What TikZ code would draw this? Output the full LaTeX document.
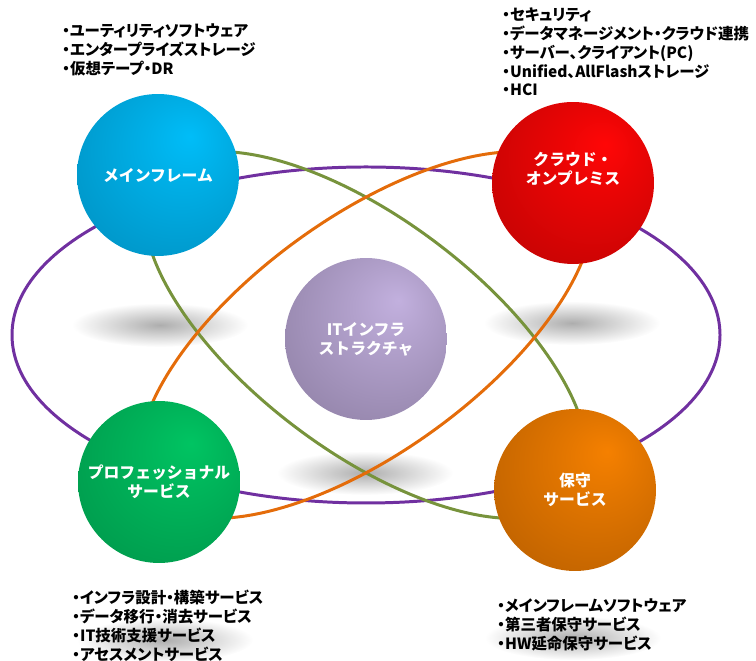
\documentclass[tikz,border=0pt]{standalone}
\usepackage{fontspec}
\newfontfamily\jplist[RawFeature=+palt]{Noto Sans CJK JP}
\newfontfamily\jpball{Noto Sans CJK JP}
\usepackage{tikz}

\definecolor{bluehi}{HTML}{00BDF8}
\definecolor{bluelo}{HTML}{004A6A}
\definecolor{redhi}{HTML}{FF0606}
\definecolor{redlo}{HTML}{5A0000}
\definecolor{purphi}{HTML}{C2B0DE}
\definecolor{purplo}{HTML}{3C3248}
\definecolor{greenhi}{HTML}{00C462}
\definecolor{greenlo}{HTML}{004E26}
\definecolor{orangehi}{HTML}{F58000}
\definecolor{orangelo}{HTML}{5A2B00}
\definecolor{ovpurple}{HTML}{7030A0}
\definecolor{ovgreen}{HTML}{77933C}
\definecolor{ovorange}{HTML}{E46C0A}

% sphere look, highlight a bit up and right
\pgfdeclareradialshading[ballhi,balllo]{kyu}{\pgfpoint{10bp}{12bp}}{color(0bp)=(ballhi); color(12bp)=(ballhi!88!balllo); color(40bp)=(ballhi!62!balllo); color(66bp)=(balllo)}

\tikzset{
  kyu/.style 2 args={circle,minimum size=3.24cm,inner sep=0pt,text=white,align=center,
    font=\jpball\bfseries\fontsize{9pt}{10.8pt}\selectfont,
    /utils/exec={\colorlet{ballhi}{#1}\colorlet{balllo}{#2}},shading=kyu},
  ring/.style={draw=#1,line width=1.7pt},
  itemlist/.style={anchor=north west,inner sep=0pt,align=left,
    font=\jplist\bfseries\fontsize{8.8pt}{10.8pt}\selectfont}
}

\begin{document}
\begin{tikzpicture}[x=.02cm,y=.02cm]
	\useasboundingbox (0,0) rectangle (756,661);
	% shadows under the spheres
	\foreach \sx/\sy in {160/336,572/338,365/188,165/21,573/23} \shade[inner color=black!32,outer color=white] (\sx,\sy) ellipse [x radius=88,y radius=22];
	% orbits
	\draw[ring=ovpurple] (366,326) ellipse [x radius=354,y radius=168];
	\draw[ring=ovgreen,rotate around={-37:(366,326)}] (366,326) ellipse [x radius=263,y radius=116];
	\draw[ring=ovorange,rotate around={36:(366,326)}] (366,326) ellipse [x radius=267,y radius=117];
	% spheres
	\node[kyu={bluehi}{bluelo}] (mainframe) at (158,486) {メインフレーム};
	\node[kyu={redhi}{redlo}] (cloud) at (573,478) {クラウド・\\オンプレミス\\[6pt]};
	\node[kyu={purphi}{purplo}] (infra) at (366,322) {ITインフラ\\ストラクチャ};
	\node[kyu={greenhi}{greenlo}] (prof) at (159,179) {プロフェッショナル\\サービス};
	\node[kyu={orangehi}{orangelo}] (hoshu) at (575,171) {保守\\サービス};
	% lists
	\node[itemlist] (mflist) at (62,638) {・ユーティリティソフトウェア\\・エンタープライズストレージ\\・仮想テープ・DR};
	\node[itemlist] (cloudlist) at (502,654) {・セキュリティ\\・データマネージメント・クラウド連携\\・サーバー、クライアント(PC)\\・Unified、AllFlashストレージ\\・HCI};
	\node[itemlist] (proflist) at (72,71) {・インフラ設計・構築サービス\\・データ移行・消去サービス\\・IT技術支援サービス\\・アセスメントサービス};
	\node[itemlist] (hoshulist) at (497,63) {・メインフレームソフトウェア\\・第三者保守サービス\\・HW延命保守サービス};
\end{tikzpicture}
\end{document}
